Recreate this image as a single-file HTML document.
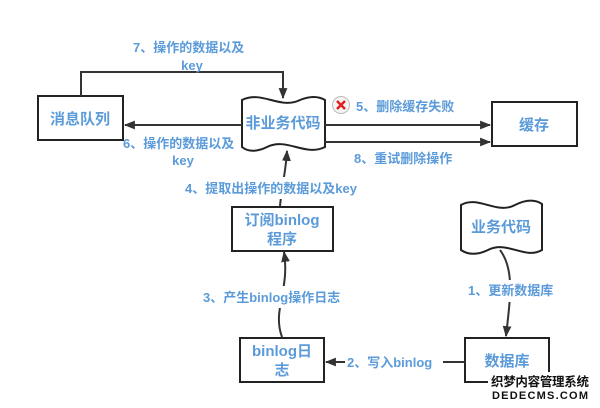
<!DOCTYPE html>
<html><head><meta charset="utf-8"><style>
html,body{margin:0;padding:0;background:#fff;}
svg{display:block;}
text{font-family:"Liberation Sans","Noto Sans CJK SC",sans-serif;font-weight:bold;fill:#5b9bd9;}
</style></head><body>
<svg width="600" height="408" viewBox="0 0 600 408" xmlns="http://www.w3.org/2000/svg">
<defs>
<marker id="b" viewBox="0 0 10 10" refX="9" refY="5" markerWidth="11" markerHeight="11" orient="auto" markerUnits="userSpaceOnUse">
<path d="M0,1 L10,5 L0,9 z" fill="#333"/></marker>
</defs>
<g stroke="#222" stroke-width="2" fill="#fff">
<rect x="38" y="96" width="85" height="44"/>
<rect x="492" y="102" width="85" height="44"/>
<rect x="232" y="207" width="101" height="44"/>
<rect x="240" y="338" width="84" height="44"/>
<rect x="465" y="338" width="84" height="44"/>
<path d="M242,100 C262,90 280,110 300,100 C310,96 318,96 325,100 L325,147 C305,157 287,137 267,147 C257,152 248,152 242,147 Z"/>
<path d="M461,205 C478,195 497,215 515,205 C527,199 536,200 542,204 L542,250 C525,260 507,240 488,250 C478,255 468,255 461,250 Z"/>
</g>
<g stroke="#333" stroke-width="2" fill="none">
<path d="M81,96 L81,72 L283,72 L283,98" marker-end="url(#b)"/>
<path d="M242,125 L125,125" marker-end="url(#b)"/>
<path d="M325,125 L490,125" marker-end="url(#b)"/>
<path d="M325,142 L490,142" marker-end="url(#b)"/>
<path d="M280,206 C282,185 286,170 287,151" marker-end="url(#b)"/>
<path d="M282,337 C272,310 290,290 284,252" marker-end="url(#b)"/>
<path d="M465,362 L326,362" marker-end="url(#b)"/>
<path d="M500,250 C515,270 510,300 506,336" marker-end="url(#b)"/>
</g>
<rect x="345" y="352" width="98" height="20" fill="#fff"/>
<rect x="200" y="286" width="160" height="22" fill="#fff"/>
<rect x="180" y="177" width="200" height="22" fill="#fff"/>
<rect x="465" y="280" width="95" height="22" fill="#fff"/>
<circle cx="341" cy="105" r="8.5" fill="#f4f4f4" stroke="#bbb" stroke-width="1"/>
<path d="M337,101 L345,109 M345,101 L337,109" stroke="#e02020" stroke-width="2.5"/>
<g font-size="15" text-anchor="middle">
<text x="80" y="124">消息队列</text>
<text x="283" y="128">非业务代码</text>
<text x="534" y="130">缓存</text>
<text x="282" y="225">订阅binlog</text>
<text x="282" y="244">程序</text>
<text x="282" y="356">binlog日</text>
<text x="282" y="375">志</text>
<text x="501" y="232">业务代码</text>
<text x="507" y="366">数据库</text>
</g>
<g font-size="13">
<text x="133" y="52">7、操作的数据以及</text>
<text x="192" y="70" text-anchor="middle">key</text>
<text x="123" y="148">6、操作的数据以及</text>
<text x="183" y="165" text-anchor="middle">key</text>
<text x="356" y="111">5、删除缓存失败</text>
<text x="354" y="163">8、重试删除操作</text>
<text x="185" y="193">4、提取出操作的数据以及key</text>
<text x="203" y="302">3、产生binlog操作日志</text>
<text x="468" y="295">1、更新数据库</text>
<text x="347" y="367">2、写入binlog</text>
</g>
<rect x="488" y="372" width="104" height="30" fill="#fff"/>
<text x="540" y="386" font-size="12.5" text-anchor="middle" style="fill:#111;font-weight:bold" textLength="98">织梦内容管理系统</text>
<text x="540" y="399" font-size="11" text-anchor="middle" style="fill:#111;font-weight:bold" textLength="96">DEDECMS.COM</text>
</svg>
</body></html>
